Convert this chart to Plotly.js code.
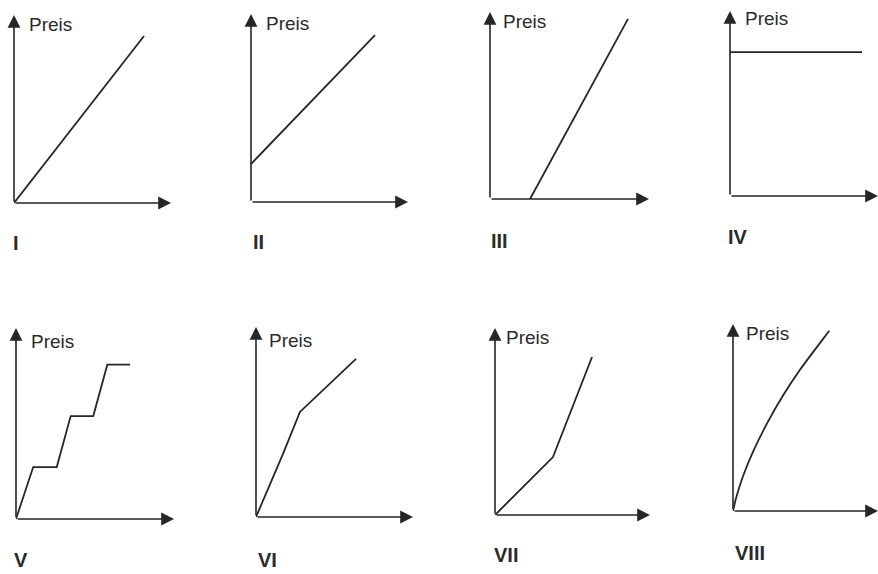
<!DOCTYPE html>
<html>
<head>
<meta charset="utf-8">
<script src="https://cdn.plot.ly/plotly-3.0.1.min.js"></script>
<style>
html,body{margin:0;padding:0;background:#ffffff;}
#chart{width:878px;height:574px;}
</style>
</head>
<body>
<div id="chart"></div>
<script>
// ---- data (panel units: each axis runs 0..10 from origin to arrow tip) ----
const panelLabels = ['I', 'II', 'III', 'IV', 'V', 'VI', 'VII', 'VIII'];
const axisLabel = 'Preis';

const xI = [0, 8.28];
const yI = [0, 8.88];

const xII = [0, 7.90];
const yII = [2.02, 8.88];

const xIII = [2.52, 8.68];
const yIII = [0, 9.63];

const xIV = [0, 8.92];
const yIV = [7.78, 7.78];

const xV = [0, 1.09, 2.58, 3.46, 4.89, 5.78, 7.22];
const yV = [0, 2.72, 2.72, 5.39, 5.39, 8.08, 8.08];

const xVI = [0, 1.72, 2.80, 6.37];
const yVI = [0, 3.32, 5.53, 8.32];

const xVII = [0, 3.74, 6.26];
const yVII = [0, 3.10, 8.45];

const xVIII = [0, 0.25, 0.71, 1.40, 2.32, 3.47, 4.62, 5.77, 6.64];
const yVIII = [0, 0.80, 1.90, 3.20, 4.65, 6.20, 7.55, 8.75, 9.64];

const seriesX = [xI, xII, xIII, xIV, xV, xVI, xVII, xVIII];
const seriesY = [yI, yII, yIII, yIV, yV, yVI, yVII, yVIII];
const lineShapes = ['linear', 'linear', 'linear', 'linear', 'linear', 'linear', 'linear', 'spline'];

// ---- layout geometry (pixels): origin x, origin y, x-arrow tip, y-arrow tip ----
const W = 878, H = 574;
const boxes = [
  [14, 203, 171, 15],
  [251, 202, 408, 14],
  [490, 199, 649, 12],
  [730, 196, 878, 11],
  [16, 519, 174, 328],
  [256, 517, 413, 327],
  [495, 515, 650, 328],
  [733, 511, 878, 324]
];
const preisPos = [[27, 24.5], [264, 24], [501, 21], [743, 18.5], [29, 341], [267, 340], [504, 337], [744, 333]];
const numeralPos = [[16, 243], [258, 242], [499, 241], [738, 237], [21, 560], [267, 560], [506, 555], [750, 553]];

const ink = '#262626';
const textInk = '#2b2b2b';

const traces = [];
const layout = {
  width: W, height: H,
  margin: {l: 0, r: 0, t: 0, b: 0, pad: 0},
  paper_bgcolor: '#ffffff',
  plot_bgcolor: 'rgba(0,0,0,0)',
  showlegend: false,
  annotations: []
};

const px2x = p => Math.min(1, Math.max(0, p / W));
const px2y = p => Math.min(1, Math.max(0, 1 - p / H));

for (let i = 0; i < 8; i++) {
  const n = i + 1;
  const xa = 'xaxis' + (n === 1 ? '' : n);
  const ya = 'yaxis' + (n === 1 ? '' : n);
  const xr = 'x' + (n === 1 ? '' : n);
  const yr = 'y' + (n === 1 ? '' : n);
  const [ox, oy, xt, yt] = boxes[i];
  const axCommon = {
    range: [0, 10], showgrid: false, zeroline: false, showline: false,
    showticklabels: false, ticks: '', fixedrange: true
  };
  layout[xa] = Object.assign({}, axCommon, {domain: [px2x(ox), px2x(xt)], anchor: yr});
  layout[ya] = Object.assign({}, axCommon, {domain: [px2y(oy), px2y(yt)], anchor: xr});

  traces.push({
    type: 'scatter', mode: 'lines', x: seriesX[i], y: seriesY[i],
    xaxis: xr, yaxis: yr, hoverinfo: 'skip',
    line: {color: ink, width: 1.8, shape: lineShapes[i], smoothing: 1}
  });

  // axes drawn as arrows
  const arrowCommon = {
    xref: xr, yref: yr, axref: xr, ayref: yr, text: '', showarrow: true,
    arrowhead: 2, arrowsize: 1.6, arrowwidth: 1.6, arrowcolor: ink,
    ax: 0, ay: 0, standoff: 0, startstandoff: 0
  };
  layout.annotations.push(Object.assign({}, arrowCommon, {x: 10, y: 0}));
  layout.annotations.push(Object.assign({}, arrowCommon, {x: 0, y: 10}));

  // "Preis" label
  layout.annotations.push({
    xref: 'paper', yref: 'paper', x: px2x(preisPos[i][0]), y: px2y(preisPos[i][1]),
    xanchor: 'left', yanchor: 'middle', showarrow: false, text: axisLabel,
    font: {family: 'Liberation Sans, Arial, sans-serif', size: 19, color: textInk}
  });
  // panel numeral
  layout.annotations.push({
    xref: 'paper', yref: 'paper', x: px2x(numeralPos[i][0]), y: px2y(numeralPos[i][1]),
    xanchor: 'center', yanchor: 'middle', showarrow: false, text: '<b>' + panelLabels[i] + '</b>',
    font: {family: 'Liberation Sans, Arial, sans-serif', size: 20, color: textInk}
  });
}

Plotly.newPlot('chart', traces, layout, {displayModeBar: false, staticPlot: true});
</script>
</body>
</html>
